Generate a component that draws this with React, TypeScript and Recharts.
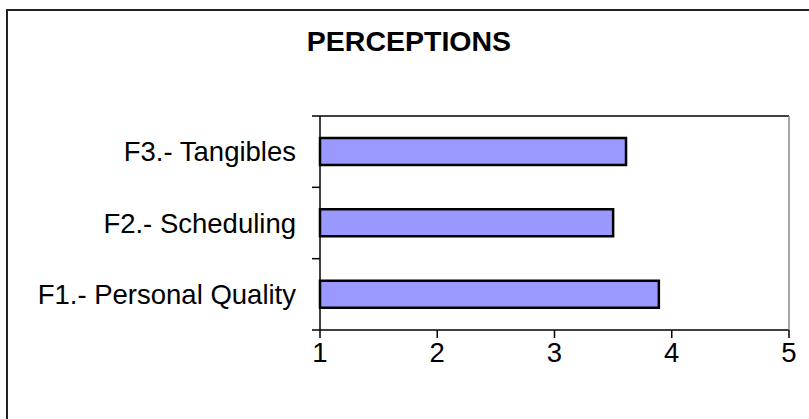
import React from 'react';
import { BarChart, Bar, XAxis, YAxis } from 'recharts';

// mean perception score per factor, top row first
const factors = ['F3.- Tangibles', 'F2.- Scheduling', 'F1.- Personal Quality'];
const scores = [3.61, 3.5, 3.89];
const scaleTicks = [1, 2, 3, 4, 5];

const data = factors.map((name, i) => ({ name, score: scores[i] }));

const FONT = '"Liberation Sans", Arial, sans-serif';
const CHART_W = 809;
const CHART_H = 419;
const MARGIN = { top: 116, right: 20, bottom: 49, left: 0 };
const Y_AXIS_W = 320;
const X_AXIS_H = 40;
const PLOT_W = CHART_W - MARGIN.left - MARGIN.right - Y_AXIS_W;
const TICK_LEN = 8;
const LABEL_GAP = 24;

// category label at the band centre, tick marks on the band edges;
// the first tick also draws the top and right edges of the plot box
const FactorTick = (props: any) => {
  const { x, y, payload, index, height } = props;
  const half = payload?.offset || 35.7;
  const axisX = x + LABEL_GAP;
  const top = y - half;
  const plotH = height || half * 2 * factors.length;
  return (
    <g>
      {index === 0 && (
        <>
          <line x1={axisX} x2={axisX + PLOT_W} y1={top} y2={top} stroke="#000" strokeWidth={1.5} />
          <line x1={axisX + PLOT_W} x2={axisX + PLOT_W} y1={top} y2={top + plotH} stroke="#888" strokeWidth={1.5} />
        </>
      )}
      <line x1={axisX - TICK_LEN} x2={axisX} y1={top} y2={top} stroke="#000" strokeWidth={1.5} />
      {index === factors.length - 1 && (
        <line x1={axisX - TICK_LEN} x2={axisX} y1={y + half} y2={y + half} stroke="#000" strokeWidth={1.5} />
      )}
      <text x={x} y={y} dy={9.5} textAnchor="end" fill="#000" fontSize={27.5} fontFamily={FONT}>
        {payload.value}
      </text>
    </g>
  );
};

const ScoreTick = (props: any) => {
  const { x, y, payload } = props;
  const axisY = y - TICK_LEN - 4;
  return (
    <g>
      <line x1={x} x2={x} y1={axisY} y2={axisY + TICK_LEN} stroke="#000" strokeWidth={1.5} />
      <text x={x} y={axisY + 32} textAnchor="middle" fill="#000" fontSize={27.5} fontFamily={FONT}>
        {payload.value}
      </text>
    </g>
  );
};

const App: React.FC = () => (
  <div style={{ position: 'absolute', left: 0, top: 0, width: CHART_W, height: CHART_H, overflow: 'hidden', background: '#fff' }}>
    {/* open frame: only left and top edges show */}
    <div style={{ position: 'absolute', left: 6, top: 9, width: 803, height: 410, boxSizing: 'border-box', borderLeft: '2px solid #222', borderTop: '2px solid #222' }} />
    <div style={{ position: 'absolute', left: 0, top: 25, width: CHART_W, paddingLeft: 9, boxSizing: 'border-box', textAlign: 'center', fontSize: 28.5, fontWeight: 'bold', color: '#000', fontFamily: FONT }}>
      PERCEPTIONS
    </div>
    <div style={{ position: 'absolute', left: 0, top: 0 }}>
      <BarChart width={CHART_W} height={CHART_H} data={data} layout="vertical" barSize={27} margin={MARGIN}>
        <XAxis type="number" domain={[1, 5]} ticks={scaleTicks} height={X_AXIS_H} tickSize={TICK_LEN} tickMargin={4}
          tickLine={false} axisLine={{ stroke: '#000', strokeWidth: 1.5 }} tick={<ScoreTick />} />
        <YAxis type="category" dataKey="name" width={Y_AXIS_W} tickSize={0} tickMargin={LABEL_GAP}
          tickLine={false} axisLine={{ stroke: '#000', strokeWidth: 1.5 }} tick={<FactorTick />} />
        <Bar dataKey="score" fill="#9999FF" stroke="#000" strokeWidth={2.5} isAnimationActive={false} />
      </BarChart>
    </div>
  </div>
);

export default App;
